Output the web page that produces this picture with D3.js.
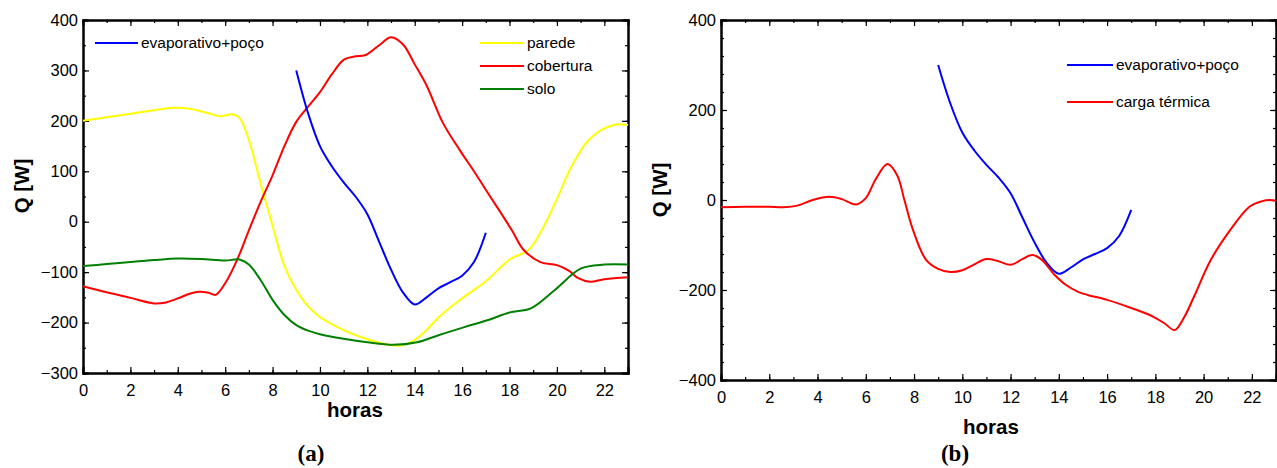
<!DOCTYPE html>
<html>
<head>
<meta charset="utf-8">
<script src="https://cdn.jsdelivr.net/npm/d3@7"></script>
<style>
  body { margin: 0; background: #fff; }
  svg { font-family: "Liberation Sans", Arial, sans-serif; }
  .tick text { font-size: 16.5px; fill: #000; }
</style>
</head>
<body>
<svg id="chart" width="1277" height="468"></svg>
<script>
// panel (a)
let paredeH = [0, 1, 2, 3, 3.8, 4.5, 5.3, 5.8, 6.3, 6.6, 7, 7.5, 8, 8.5, 9, 9.5, 10, 11, 12, 13, 13.5, 14, 14.5, 15, 16, 17, 18, 18.8, 19.3, 20, 20.6, 21.3, 22, 22.5, 23];
let paredeV = [200, 207, 214, 221, 226, 224, 215, 209, 213, 206, 162, 75, -8, -88, -135, -168, -189, -215, -233, -245, -245, -235, -215, -190, -152, -118, -75, -56, -22, 45, 108, 160, 185, 193, 192];

let coberturaH = [0, 1, 2, 3, 3.5, 4, 4.5, 4.9, 5.3, 5.6, 6.0, 6.5, 7, 7.5, 8, 8.5, 9, 9.5, 10, 10.5, 11, 11.5, 11.9, 12.5, 13, 13.5, 14, 14.5, 15.2, 15.9, 16.5, 17.1, 17.6, 18.1, 18.6, 19.3, 20, 20.5, 20.9, 21.4, 22, 23];
let coberturaV = [-128, -140, -151, -162, -160, -152, -143, -139, -141, -145, -122, -76, -17, 40, 92, 150, 198, 228, 257, 292, 321, 328, 330, 350, 366, 352, 312, 270, 195, 142, 100, 56, 20, -17, -56, -80, -86, -97, -112, -119, -114, -110];

let soloH = [0, 1, 2, 3, 4, 5, 6, 6.6, 7, 7.5, 8, 8.5, 9, 9.5, 10, 11, 12, 13.1, 14.1, 15, 16.1, 17.1, 18, 18.9, 19.9, 21, 22, 23];
let soloV = [-88, -84, -80, -76, -73, -74, -77, -75, -85, -116, -155, -185, -205, -216, -223, -232, -239, -244, -239, -225, -209, -195, -180, -172, -136, -93, -85, -85];

// both panels
let evapH = [9, 9.5, 10, 10.5, 11, 11.5, 12, 12.5, 13, 13.5, 14, 14.5, 15, 15.5, 16, 16.5, 17];
let evapV = [300, 215, 150, 110, 78, 50, 15, -40, -95, -140, -164, -150, -132, -120, -107, -80, -22];

// panel (b)
let cargaH = [0, 1, 2, 2.6, 3.2, 3.8, 4.5, 5, 5.6, 6.0, 6.4, 6.9, 7.3, 7.6, 7.96, 8.5, 9, 9.5, 10, 10.5, 11, 11.5, 12, 12.5, 12.9, 13.3, 13.8, 14.3, 14.8, 15.2, 16, 17, 17.9, 18.4, 18.8, 19.2, 19.6, 20.3, 21.1, 21.9, 22.4, 22.75, 23];
let cargaV = [-16, -15, -15, -16, -12, 0, 7, 2, -10, 4, 45, 80, 55, 0, -67, -133, -153, -160, -156, -143, -131, -136, -144, -131, -122, -133, -165, -189, -204, -211, -222, -240, -259, -275, -289, -260, -215, -133, -67, -15, -3, 0, -2];

let xTicks = [0, 2, 4, 6, 8, 10, 12, 14, 16, 18, 20, 22];
let yTicksA = [-300, -200, -100, 0, 100, 200, 300, 400];
let yTicksB = [-400, -200, 0, 200, 400];

const svg = d3.select("#chart");

function zip(h, v) {
    return h.map((d, i) => [d, v[i]]);
}

function drawPanel(p) {
    let x = d3.scaleLinear().domain([0, 23]).range([p.left, p.right]);
    let y = d3.scaleLinear().domain(p.yDomain).range([p.bottom, p.top]);
    let g = svg.append("g");

    let minorX = d3.range(0, 24, 1);
    let minorY = d3.range(p.yDomain[0], p.yDomain[1] + 1, p.yMinor);

    // minor ticks on all four sides
    g.append("g").attr("transform", `translate(0,${p.bottom})`)
        .call(d3.axisBottom(x).tickValues(minorX).tickSize(-3).tickFormat(""));
    g.append("g").attr("transform", `translate(0,${p.top})`)
        .call(d3.axisTop(x).tickValues(minorX).tickSize(-3).tickFormat(""));
    g.append("g").attr("transform", `translate(${p.left},0)`)
        .call(d3.axisLeft(y).tickValues(minorY).tickSize(-3).tickFormat(""));
    g.append("g").attr("transform", `translate(${p.right},0)`)
        .call(d3.axisRight(y).tickValues(minorY).tickSize(-3).tickFormat(""));

    // major ticks
    g.append("g").attr("transform", `translate(0,${p.bottom})`)
        .call(d3.axisBottom(x).tickValues(xTicks).tickSize(-6).tickPadding(11));
    g.append("g").attr("transform", `translate(0,${p.top})`)
        .call(d3.axisTop(x).tickValues(xTicks).tickSize(-6).tickFormat(""));
    g.append("g").attr("transform", `translate(${p.left},0)`)
        .call(d3.axisLeft(y).tickValues(p.yTicks).tickSize(-6).tickPadding(5));
    g.append("g").attr("transform", `translate(${p.right},0)`)
        .call(d3.axisRight(y).tickValues(p.yTicks).tickSize(-6).tickFormat(""));

    g.selectAll(".domain").attr("stroke", "#000").attr("stroke-width", 2);
    g.selectAll(".tick line").attr("stroke", "#000").attr("stroke-width", 1.2);

    let line = d3.line()
        .x(d => x(d[0]))
        .y(d => y(d[1]))
        .curve(d3.curveCatmullRom.alpha(0.5));

    p.series.forEach(function(s) {
        g.append("path")
            .datum(zip(s.h, s.v))
            .attr("fill", "none")
            .attr("stroke", s.color)
            .attr("stroke-width", 2)
            .attr("d", line);
    });

    // legend
    p.series.forEach(function(s) {
        g.append("line")
            .attr("x1", s.lx).attr("x2", s.lx + s.lw)
            .attr("y1", s.ly).attr("y2", s.ly)
            .attr("stroke", s.color).attr("stroke-width", 2);
        g.append("text")
            .attr("x", s.lx + s.lw + 3)
            .attr("y", s.ly)
            .attr("dy", "0.35em")
            .style("font-size", "15.5px")
            .text(s.name);
    });

    g.append("text")
        .attr("transform", `translate(${p.qx}, ${p.qy}) rotate(-90)`)
        .style("text-anchor", "middle")
        .style("font-size", "20.5px")
        .style("font-weight", "bold")
        .text("Q [W]");

    g.append("text")
        .attr("x", p.hx).attr("y", p.hy)
        .style("text-anchor", "middle")
        .style("font-size", "20.5px")
        .style("font-weight", "bold")
        .text("horas");

    g.append("text")
        .attr("x", p.tx).attr("y", p.ty)
        .style("text-anchor", "middle")
        .style("font-family", "'Liberation Serif', 'Times New Roman', serif")
        .style("font-size", "23px")
        .style("font-weight", "bold")
        .text(p.tag);
}

drawPanel({
    left: 83, right: 628, top: 20, bottom: 373,
    yDomain: [-300, 400], yTicks: yTicksA, yMinor: 50,
    qx: 29, qy: 186, hx: 355, hy: 417, tx: 311, ty: 461, tag: "(a)",
    series: [
        {name: "parede", h: paredeH, v: paredeV, color: "#ffff00", lx: 480, ly: 43, lw: 44},
        {name: "cobertura", h: coberturaH, v: coberturaV, color: "#ff0000", lx: 480, ly: 66, lw: 44},
        {name: "solo", h: soloH, v: soloV, color: "#008000", lx: 480, ly: 89, lw: 44},
        {name: "evaporativo+poço", h: evapH, v: evapV, color: "#0000ff", lx: 95, ly: 43, lw: 43}
    ]
});

drawPanel({
    left: 721, right: 1276, top: 20, bottom: 380,
    yDomain: [-400, 400], yTicks: yTicksB, yMinor: 40,
    qx: 667, qy: 190, hx: 991, hy: 434, tx: 955, ty: 461, tag: "(b)",
    series: [
        {name: "evaporativo+poço", h: evapH, v: evapV, color: "#0000ff", lx: 1067, ly: 65, lw: 46},
        {name: "carga térmica", h: cargaH, v: cargaV, color: "#ff0000", lx: 1067, ly: 102, lw: 46}
    ]
});
</script>
</body>
</html>
